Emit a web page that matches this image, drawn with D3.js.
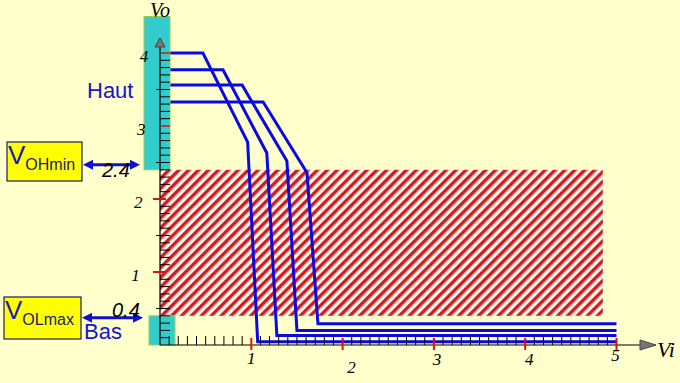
<!DOCTYPE html>
<html>
<head>
<meta charset="utf-8">
<script src="https://cdn.jsdelivr.net/npm/d3@7"></script>
<style>
  body { margin: 0; background: #ffffcc; }
  svg { display: block; }
</style>
</head>
<body>
<div id="graph"></div>
<script>
const width = 680;
const height = 383;

// transfer curves: Vi (input) -> Vo (output)
const curveVi = [
  [0, 0.47, 0.96, 1.07, 5.0],
  [0, 0.69, 1.17, 1.28, 5.0],
  [0, 0.90, 1.39, 1.50, 5.0],
  [0, 1.13, 1.61, 1.73, 5.0]
];
const curveVo = [
  [4.0, 4.0, 2.78, 0.045, 0.045],
  [3.77, 3.77, 2.63, 0.13, 0.13],
  [3.56, 3.56, 2.52, 0.2, 0.2],
  [3.33, 3.33, 2.36, 0.29, 0.29]
];
const highBand = [2.4, 4.5];   // "Haut"
const lowBand = [0, 0.4];      // "Bas"
const forbidden = {x: [0, 4.85], y: [0.4, 2.4]};
const xTicks = [1, 2, 3, 4, 5];
const yTicks = [1, 2, 3, 4];
const levelLabels = ["2.4", "0.4"];

const x = d3.scaleLinear().domain([0, 5]).range([160, 616.5]);
const y = d3.scaleLinear().domain([0, 4]).range([345, 53]);

const svg = d3.select("#graph")
  .append("svg")
  .attr("width", width)
  .attr("height", height);

svg.append("rect").attr("width", width).attr("height", height).attr("fill", "#ffffcc");

const defs = svg.append("defs");
const pat = defs.append("pattern")
  .attr("id", "hatch")
  .attr("patternUnits", "userSpaceOnUse")
  .attr("width", 7).attr("height", 7)
  .attr("patternTransform", "rotate(45)");
pat.append("rect").attr("width", 7).attr("height", 7).attr("fill", "#fff4ee");
pat.append("rect").attr("width", 3.5).attr("height", 7).attr("fill", "#cc1f1f");

// forbidden zone
svg.append("rect")
  .attr("x", x(forbidden.x[0]))
  .attr("y", y(forbidden.y[1]))
  .attr("width", x(forbidden.x[1]) - x(forbidden.x[0]))
  .attr("height", y(forbidden.y[0]) - y(forbidden.y[1]))
  .attr("fill", "url(#hatch)");

// curves
const line = d3.line().x(d => x(d[0])).y(d => y(d[1]));
curveVi.forEach((xs, i) => {
  svg.append("path")
    .datum(xs.map((v, j) => [v, curveVo[i][j]]))
    .attr("fill", "none")
    .attr("stroke", "#0a0ae0")
    .attr("stroke-width", 3)
    .attr("stroke-linejoin", "miter")
    .attr("d", line);
});

// cyan bands
svg.append("rect")
  .attr("x", 144).attr("width", 26)
  .attr("y", y(highBand[1])).attr("height", y(highBand[0]) - y(highBand[1]))
  .attr("fill", "#33cccc").attr("stroke", "#99cc55").attr("stroke-width", 1);
svg.append("rect")
  .attr("x", 149).attr("width", 26)
  .attr("y", y(lowBand[1])).attr("height", y(lowBand[0]) - y(lowBand[1]))
  .attr("fill", "#33cccc").attr("stroke", "#99cc55").attr("stroke-width", 1);

// axes
svg.append("line").attr("x1", x(0)).attr("x2", 645).attr("y1", y(0)).attr("y2", y(0))
  .attr("stroke", "#000").attr("stroke-width", 1.2);
svg.append("line").attr("x1", x(0)).attr("x2", x(0)).attr("y1", y(0)).attr("y2", 45)
  .attr("stroke", "#000").attr("stroke-width", 1.2);
svg.append("path").attr("d", "M640,340 L656,345 L640,350 Z")
  .attr("fill", "#777").attr("stroke", "#444");
svg.append("path").attr("d", `M${x(0) - 5},47 L${x(0)},38 L${x(0) + 5},47 Z`)
  .attr("fill", "#777").attr("stroke", "#444");

// minor ticks
const minor = d3.range(1, 51).map(d => d / 10);
svg.append("g").selectAll("line")
  .data(minor.filter(d => Math.abs(d - Math.round(d)) > 1e-6))
  .join("line")
  .attr("x1", d => x(d)).attr("x2", d => x(d))
  .attr("y1", y(0)).attr("y2", y(0) - 9)
  .attr("stroke", "#000");
svg.append("g").selectAll("line")
  .data(d3.range(1, 41).map(d => d / 10).filter(d => Math.abs(d - Math.round(d)) > 1e-6))
  .join("line")
  .attr("x1", d => Math.abs(d * 2 - Math.round(d * 2)) < 1e-6 ? x(0) - 4 : x(0))
  .attr("x2", x(0) + 10)
  .attr("y1", d => y(d)).attr("y2", d => y(d))
  .attr("stroke", "#000");

// red major ticks
svg.append("g").selectAll("line").data(xTicks).join("line")
  .attr("x1", d => x(d)).attr("x2", d => x(d))
  .attr("y1", y(0) - 7).attr("y2", y(0) + 5)
  .attr("stroke", "#dd1111").attr("stroke-width", 2);
svg.append("g").selectAll("line").data(yTicks).join("line")
  .attr("x1", d => d >= 3 ? x(0) + 1 : x(0) - 7).attr("x2", d => d >= 3 ? x(0) + 10 : x(0) + 6)
  .attr("y1", d => y(d)).attr("y2", d => y(d))
  .attr("stroke", d => d >= 3 ? "#aa4444" : "#dd1111").attr("stroke-width", 2);

// tick labels
const serif = "'Liberation Serif', 'DejaVu Serif', serif";
const xDy = {1: 0, 2: 9, 3: 1, 4: 1, 5: -3};
const xDx = {1: 0, 2: 9, 3: 3, 4: 4, 5: -1};
svg.append("g").selectAll("text").data(xTicks).join("text")
  .attr("x", d => x(d) + xDx[d]).attr("y", d => 364 + xDy[d])
  .attr("text-anchor", "middle")
  .attr("font-family", serif).attr("font-style", "italic").attr("font-size", 17)
  .text(d => d);
svg.append("g").selectAll("text").data(yTicks).join("text")
  .attr("x", d => 137 + d * 2.8).attr("y", d => y(d) + 9)
  .attr("text-anchor", "end")
  .attr("font-family", serif).attr("font-style", "italic").attr("font-size", 17)
  .text(d => d);

svg.append("text").attr("x", 150).attr("y", 17)
  .attr("font-family", serif).attr("font-style", "italic").attr("font-size", 20).text("Vo");
svg.append("text").attr("x", 657).attr("y", 357)
  .attr("font-family", serif).attr("font-style", "italic").attr("font-size", 22).text("Vi");

const sans = "'Liberation Sans', Arial, sans-serif";
svg.append("text").attr("x", 87).attr("y", 98)
  .attr("font-family", sans).attr("font-size", 22).attr("fill", "#1515d0").text("Haut");
svg.append("text").attr("x", 84).attr("y", 339)
  .attr("font-family", sans).attr("font-size", 22).attr("fill", "#1515d0").text("Bas");

// level boxes
function levelBox(bx, by, bw, bh, sub) {
  svg.append("rect").attr("x", bx).attr("y", by).attr("width", bw).attr("height", bh)
    .attr("fill", "#ffff00").attr("stroke", "#1a1a66").attr("stroke-width", 1.2);
  const t = svg.append("text").attr("x", bx + 1).attr("y", by + 22)
    .attr("font-family", sans).attr("fill", "#1a1ab8");
  t.append("tspan").attr("font-size", 26).text("V");
  t.append("tspan").attr("font-size", 16).attr("dy", 6).attr("fill", "#1a1a80").text(sub);
}
levelBox(7, 142, 75, 39, "OHmin");
levelBox(4, 297, 77, 42, "OLmax");

// double arrows
function dblArrow(x1, x2, yy) {
  svg.append("line").attr("x1", x1 + 6).attr("x2", x2 - 6).attr("y1", yy).attr("y2", yy)
    .attr("stroke", "#1010d0").attr("stroke-width", 3);
  svg.append("path").attr("d", `M${x1},${yy} L${x1 + 10},${yy - 5} L${x1 + 10},${yy + 5} Z`).attr("fill", "#1010d0");
  svg.append("path").attr("d", `M${x2},${yy} L${x2 - 10},${yy - 5} L${x2 - 10},${yy + 5} Z`).attr("fill", "#1010d0");
}
dblArrow(83, 140, y(2.4) - 5);
dblArrow(82, 143, y(0.4) + 2);

svg.append("text").attr("x", 102).attr("y", 177)
  .attr("font-family", sans).attr("font-style", "italic").attr("font-size", 20).text(levelLabels[0]);
svg.append("text").attr("x", 112).attr("y", 317)
  .attr("font-family", sans).attr("font-style", "italic").attr("font-size", 20).text(levelLabels[1]);
</script>
</body>
</html>
